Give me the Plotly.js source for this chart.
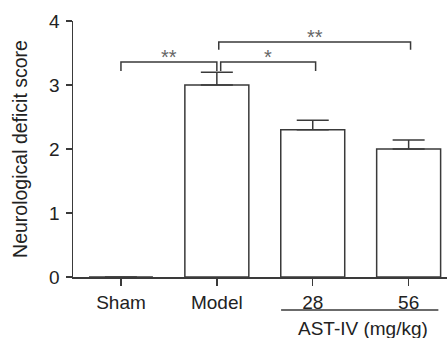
<!DOCTYPE html>
<html><head><meta charset="utf-8">
<script src="https://cdn.plot.ly/plotly-3.0.1.min.js"></script>
<style>html,body{margin:0;padding:0;background:#fff;}#chart{width:447px;height:338px;}</style>
</head><body><div id="chart"></div>
<script>
var categories = ["Sham", "Model", "28", "56"];
var scores = [0, 3.0, 2.3, 2.0];
var semUp = [null, 0.2, 0.15, 0.14];
var yTicks = [0, 1, 2, 3, 4];
var brackets = [
  {from: 0, to: 1.0, y: 3.36, leg: 3.22, label: "**"},
  {from: 1.04, to: 2.03, y: 3.36, leg: 3.22, label: "*"},
  {from: 1.02, to: 3.02, y: 3.67, leg: 3.55, label: "**"}
];
var groupLabel = "AST-IV (mg/kg)";

var lineCol = "#3a3a3a";
var fam = "Liberation Sans, Arial, sans-serif";
var font = {family: fam, size: 19, color: "#222"};

var trace = {
  type: "bar", x: categories, y: scores, width: 0.667,
  marker: {color: "#fff", line: {color: lineCol, width: 1.5}},
  error_y: {type: "data", symmetric: false, array: semUp,
            arrayminus: semUp.map(function(){return 0;}),
            width: 16, thickness: 1.5, color: lineCol},
  hoverinfo: "none"
};

var shapes = [], annotations = [];
brackets.forEach(function(b){
  shapes.push({type: "path", xref: "x", yref: "y",
    path: "M " + b.from + " " + b.leg + " L " + b.from + " " + b.y + " L " + b.to + " " + b.y + " L " + b.to + " " + b.leg,
    line: {color: lineCol, width: 1.5}});
  annotations.push({xref: "x", yref: "y", x: (b.from + b.to) / 2, y: b.y, text: b.label,
    showarrow: false, yanchor: "bottom", yshift: -8,
    font: {family: fam, size: 20, color: "#666"}});
});
shapes.push({type: "line", xref: "x", yref: "paper", x0: 1.67, x1: 3.31, y0: -0.129, y1: -0.129,
  line: {color: lineCol, width: 1.5}});
annotations.push({xref: "x", yref: "paper", x: 2.52, y: -0.2, text: groupLabel, showarrow: false,
  yanchor: "middle", font: font});

var layout = {
  width: 447, height: 338,
  margin: {l: 73, r: 0, t: 21, b: 61},
  paper_bgcolor: "#fff", plot_bgcolor: "#fff",
  showlegend: false,
  font: font,
  xaxis: {type: "category", range: [-0.5, 3.4], showline: true, linecolor: lineCol, linewidth: 1.5,
          ticks: "outside", ticklen: 7, tickwidth: 1.5, tickcolor: lineCol, showgrid: false,
          zeroline: false, tickfont: font, ticklabelstandoff: 1, fixedrange: true},
  yaxis: {range: [0, 4], tickvals: yTicks, showline: true, linecolor: lineCol, linewidth: 1.5,
          ticks: "outside", ticklen: 6, tickwidth: 1.5, tickcolor: lineCol, showgrid: false,
          zeroline: false, tickfont: font, ticklabelstandoff: 2,
          title: {text: "Neurological deficit score", font: {family: fam, size: 19.5, color: "#222"}, standoff: 16}},
  shapes: shapes, annotations: annotations
};
Plotly.newPlot("chart", [trace], layout, {staticPlot: true, displayModeBar: false});
</script></body></html>
